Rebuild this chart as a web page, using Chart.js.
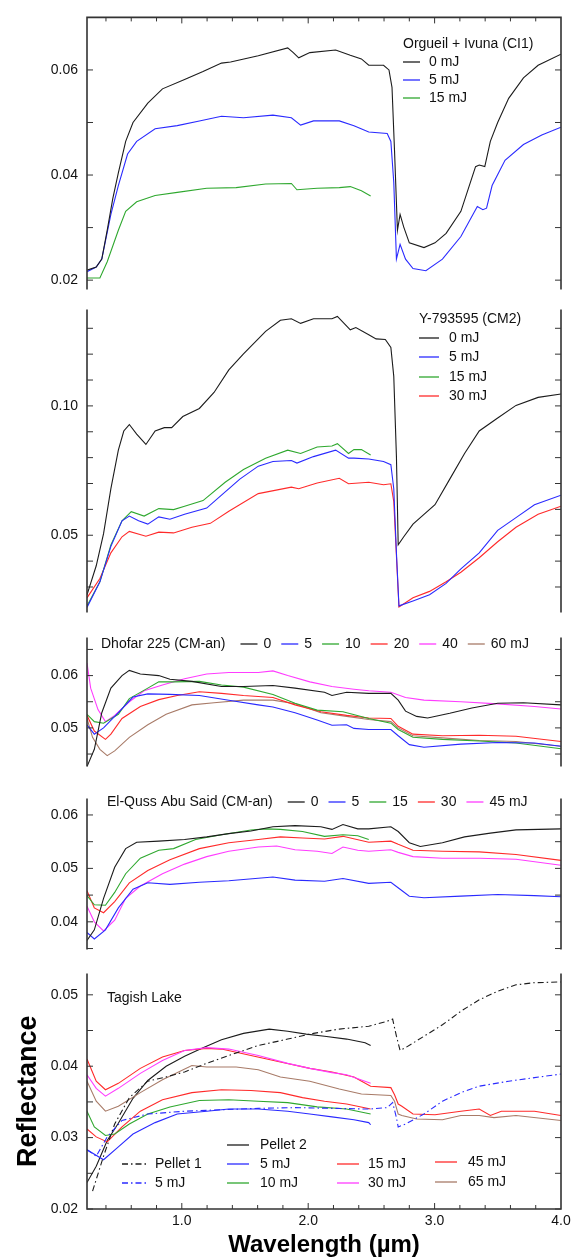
<!DOCTYPE html>
<html><head><meta charset="utf-8">
<script src="https://cdn.jsdelivr.net/npm/chart.js@4.4.1/dist/chart.umd.min.js"></script>
<style>
html,body{margin:0;padding:0;background:#fff;width:578px;height:1257px;overflow:hidden;}
canvas{position:absolute;left:0;}
</style></head><body>
<canvas id="p1"></canvas><canvas id="p2"></canvas><canvas id="p3"></canvas><canvas id="p4"></canvas><canvas id="p5"></canvas>
<script>
// ---------------- DATA ----------------
const X_TICKS = [1.0, 2.0, 3.0, 4.0];
const X_TICK_LABELS = ['1.0', '2.0', '3.0', '4.0'];
const X_MINOR = [0.4,0.6,0.8,1.2,1.4,1.6,1.8,2.2,2.4,2.6,2.8,3.2,3.4,3.6,3.8];

// Panel 1: Orgueil + Ivuna (CI1)
const P1_TICKS = [0.02, 0.04, 0.06];
const P1_TICK_LABELS = ['0.02', '0.04', '0.06'];
const P1_MINOR = [0.03, 0.05];
const P1_LABELS = ['0 mJ', '5 mJ', '15 mJ'];
const ORG_0_WL = [0.25,0.323,0.367,0.41,0.454,0.498,0.556,0.614,0.731,0.847,1.022,1.168,1.314,1.386,1.605,1.838,1.882,1.925,2.013,2.217,2.333,2.421,2.479,2.596,2.639,2.663,2.683,2.706,2.727,2.756,2.8,2.916,3.003,3.091,3.208,3.324,3.353,3.397,3.441,3.499,3.586,3.703,3.819,4.0];
const ORG_0_R = [0.0219,0.0225,0.024,0.0295,0.0355,0.0404,0.0464,0.050,0.0537,0.0564,0.0582,0.0597,0.0613,0.0615,0.0627,0.0642,0.0633,0.0623,0.0633,0.0638,0.0628,0.0621,0.0609,0.0609,0.060,0.0567,0.0446,0.0295,0.0325,0.0301,0.0271,0.0262,0.0271,0.0289,0.0331,0.0416,0.0419,0.0416,0.0464,0.050,0.0546,0.0585,0.0609,0.063];
const ORG_5_WL = [0.25,0.323,0.367,0.439,0.498,0.571,0.643,0.789,0.964,1.139,1.314,1.488,1.721,1.867,1.94,2.042,2.246,2.362,2.479,2.625,2.654,2.677,2.698,2.727,2.77,2.829,2.931,3.062,3.208,3.338,3.382,3.411,3.455,3.557,3.703,3.848,4.0];
const ORG_5_R = [0.0216,0.0225,0.024,0.0325,0.038,0.044,0.0464,0.0488,0.0494,0.0503,0.0512,0.0509,0.0514,0.0509,0.0495,0.0503,0.0503,0.0494,0.0482,0.0479,0.0464,0.0386,0.024,0.0268,0.024,0.0222,0.0218,0.024,0.0283,0.034,0.0334,0.0337,0.038,0.0428,0.0458,0.0476,0.0491];
const ORG_15_WL = [0.25,0.352,0.41,0.498,0.556,0.643,0.789,0.964,1.197,1.43,1.663,1.867,1.911,2.071,2.246,2.333,2.421,2.494];
const ORG_15_R = [0.0204,0.0204,0.0235,0.0295,0.0331,0.0349,0.0361,0.0367,0.0375,0.0376,0.0383,0.0384,0.0372,0.0375,0.0376,0.0378,0.037,0.036];

// Panel 2: Y-793595 (CM2)
const P2_TICKS = [0.05, 0.10];
const P2_TICK_LABELS = ['0.05', '0.10'];
const P2_MINOR = [0.03,0.04,0.06,0.07,0.08,0.09,0.11,0.12,0.13];
const P2_LABELS = ['0 mJ', '5 mJ', '15 mJ', '30 mJ'];
const Y_0_WL = [0.25,0.323,0.381,0.439,0.498,0.541,0.585,0.643,0.716,0.789,0.862,0.92,1.008,1.139,1.255,1.372,1.488,1.663,1.78,1.867,1.94,2.042,2.188,2.231,2.333,2.377,2.479,2.537,2.61,2.654,2.677,2.698,2.712,2.756,2.829,2.916,3.003,3.12,3.237,3.353,3.499,3.644,3.819,4.0];
const Y_0_R = [0.027,0.0382,0.0506,0.068,0.0829,0.0903,0.0928,0.0891,0.0851,0.0903,0.0916,0.0916,0.0959,0.099,0.1052,0.1139,0.1201,0.1288,0.1331,0.1337,0.1319,0.1337,0.1337,0.1346,0.1294,0.1303,0.1275,0.1259,0.1257,0.1226,0.1114,0.0804,0.0463,0.0494,0.0543,0.0581,0.0618,0.0717,0.0816,0.0903,0.0953,0.1002,0.1033,0.1046];
const Y_5_WL = [0.25,0.352,0.439,0.527,0.585,0.658,0.731,0.818,0.906,1.022,1.197,1.314,1.459,1.605,1.721,1.867,1.911,2.042,2.217,2.319,2.362,2.479,2.596,2.654,2.677,2.698,2.718,2.829,2.96,3.091,3.208,3.353,3.499,3.644,3.79,4.0];
const Y_5_R = [0.0221,0.032,0.0457,0.0556,0.0574,0.0556,0.0543,0.0571,0.0562,0.0581,0.0605,0.0655,0.0717,0.0767,0.0785,0.0789,0.0779,0.0804,0.0829,0.0798,0.0798,0.0795,0.0785,0.0773,0.068,0.0432,0.0227,0.0246,0.027,0.0314,0.037,0.0432,0.0519,0.0568,0.0618,0.0655];
const Y_15_WL = [0.25,0.352,0.439,0.527,0.60,0.702,0.818,0.935,1.022,1.168,1.343,1.488,1.663,1.838,1.94,2.071,2.188,2.231,2.319,2.362,2.421,2.494];
const Y_15_R = [0.0227,0.032,0.0463,0.0556,0.0591,0.0574,0.0603,0.0599,0.0612,0.0634,0.0705,0.0754,0.0798,0.0829,0.0816,0.0841,0.0845,0.0854,0.0816,0.0831,0.0831,0.081];
const Y_30_WL = [0.25,0.352,0.439,0.527,0.585,0.716,0.818,0.935,1.08,1.226,1.372,1.605,1.867,1.925,2.071,2.246,2.319,2.479,2.596,2.654,2.677,2.718,2.829,2.96,3.091,3.208,3.353,3.499,3.644,3.819,4.0];
const Y_30_R = [0.0258,0.0333,0.0432,0.0494,0.0515,0.0496,0.0512,0.0509,0.0531,0.0546,0.0593,0.0661,0.0686,0.068,0.0702,0.072,0.0699,0.0705,0.0695,0.0699,0.063,0.0223,0.0258,0.0283,0.032,0.0357,0.0413,0.0475,0.0531,0.0581,0.0612];

// Panel 3: Dhofar 225 (CM-an)
const P3_TICKS = [0.05, 0.06];
const P3_TICK_LABELS = ['0.05', '0.06'];
const P3_MINOR = [0.045, 0.055, 0.065];
const P3_LABELS = ['0', '5', '10', '20', '40', '60 mJ'];
const D_0_WL = [0.25,0.308,0.367,0.439,0.527,0.585,0.672,0.818,0.906,1.08,1.314,1.488,1.721,1.896,2.129,2.188,2.304,2.479,2.654,2.712,2.77,2.858,2.945,3.12,3.295,3.499,3.703,4.0];
const D_0_R = [0.0426,0.0459,0.0529,0.0576,0.06,0.061,0.0603,0.06,0.0593,0.0589,0.0579,0.0579,0.0581,0.0576,0.0568,0.0562,0.0568,0.0566,0.0566,0.0553,0.0532,0.0522,0.0519,0.0528,0.0538,0.0547,0.0548,0.0544];
const D_5_WL = [0.25,0.308,0.381,0.498,0.614,0.731,0.906,1.139,1.372,1.605,1.721,1.896,2.071,2.188,2.304,2.362,2.479,2.654,2.712,2.8,2.916,3.208,3.499,3.79,4.0];
const D_5_R = [0.0506,0.0488,0.05,0.0529,0.0559,0.0565,0.0564,0.0562,0.0553,0.0544,0.054,0.0529,0.0515,0.0505,0.0506,0.0499,0.0497,0.0497,0.0485,0.0468,0.0463,0.0469,0.0472,0.0471,0.0465];
const D_10_WL = [0.25,0.308,0.381,0.498,0.585,0.731,0.818,0.935,1.139,1.314,1.488,1.721,1.896,2.071,2.275,2.479,2.654,2.712,2.829,3.062,3.353,3.644,4.0];
const D_10_R = [0.0526,0.0512,0.0509,0.0526,0.0556,0.0576,0.0588,0.0588,0.0589,0.0582,0.0578,0.0564,0.0547,0.0534,0.0531,0.0518,0.0509,0.0497,0.0482,0.0478,0.0475,0.0471,0.046];
const D_20_WL = [0.25,0.308,0.396,0.439,0.527,0.672,0.818,0.964,1.139,1.314,1.488,1.721,1.896,2.1,2.304,2.479,2.654,2.712,2.829,3.062,3.353,3.644,4.0];
const D_20_R = [0.0524,0.0494,0.0478,0.0488,0.0518,0.0541,0.0554,0.0562,0.0569,0.0566,0.0562,0.0558,0.0544,0.0531,0.0524,0.0519,0.0518,0.0503,0.0488,0.0485,0.0486,0.0484,0.0474];
const D_40_WL = [0.25,0.279,0.337,0.396,0.469,0.585,0.702,0.847,1.022,1.197,1.372,1.605,1.721,1.838,2.013,2.188,2.362,2.479,2.654,2.77,2.916,3.208,3.499,3.79,4.0];
const D_40_R = [0.0624,0.0576,0.0535,0.0512,0.0524,0.055,0.0571,0.0582,0.0594,0.0603,0.0606,0.0606,0.0609,0.06,0.0588,0.0579,0.0574,0.0571,0.0568,0.0558,0.0553,0.055,0.0546,0.0541,0.0536];
const D_60_WL = [0.25,0.294,0.352,0.41,0.469,0.585,0.731,0.876,1.08,1.255,1.488,1.721,1.896,2.1,2.304,2.479,2.654,2.712,2.829,3.062,3.353,3.644,4.0];
const D_60_R = [0.0518,0.0482,0.0459,0.0447,0.0456,0.0482,0.0506,0.0526,0.0544,0.0548,0.0553,0.0553,0.0546,0.0529,0.0522,0.0516,0.0512,0.05,0.0485,0.0481,0.0476,0.0474,0.0465];

// Panel 4: El-Quss Abu Said (CM-an)
const P4_TICKS = [0.04, 0.05, 0.06];
const P4_TICK_LABELS = ['0.04', '0.05', '0.06'];
const P4_MINOR = [0.035, 0.045, 0.055];
const P4_LABELS = ['0', '5', '15', '30', '45 mJ'];
const E_0_WL = [0.25,0.308,0.381,0.469,0.556,0.643,0.818,1.022,1.197,1.372,1.547,1.721,1.896,2.1,2.188,2.275,2.392,2.479,2.654,2.712,2.8,2.887,3.062,3.237,3.441,3.644,4.0];
const E_0_R = [0.0365,0.0385,0.0444,0.0502,0.0537,0.0549,0.0551,0.0554,0.0559,0.0565,0.057,0.0578,0.058,0.0578,0.0573,0.0582,0.0574,0.0574,0.0578,0.0569,0.0548,0.0541,0.0548,0.0559,0.0566,0.0572,0.0574];
const E_5_WL = [0.25,0.308,0.396,0.498,0.614,0.731,0.906,1.139,1.372,1.721,1.896,2.129,2.275,2.479,2.654,2.727,2.8,2.916,3.208,3.499,3.79,4.0];
const E_5_R = [0.038,0.0368,0.0385,0.0426,0.0461,0.0473,0.047,0.0474,0.0477,0.0484,0.0478,0.0476,0.0481,0.0472,0.0474,0.0461,0.0448,0.0445,0.0448,0.0451,0.0449,0.0447];
const E_15_WL = [0.25,0.308,0.396,0.469,0.556,0.672,0.818,0.935,1.109,1.314,1.547,1.663,1.78,1.955,2.129,2.275,2.392,2.479];
const E_15_R = [0.0449,0.0432,0.0431,0.0455,0.049,0.0519,0.0534,0.0537,0.0554,0.0563,0.0572,0.0574,0.0573,0.0569,0.056,0.0563,0.0561,0.0554];
const E_30_WL = [0.25,0.308,0.381,0.469,0.585,0.731,0.906,1.139,1.372,1.605,1.78,1.955,2.129,2.275,2.479,2.654,2.712,2.829,3.062,3.353,3.644,4.0];
const E_30_R = [0.0458,0.0426,0.0417,0.0438,0.0473,0.0496,0.0516,0.0537,0.0548,0.0554,0.0559,0.0557,0.0555,0.056,0.0549,0.0551,0.0545,0.0534,0.0532,0.0531,0.0526,0.0515];
const E_45_WL = [0.25,0.308,0.381,0.469,0.556,0.672,0.847,1.022,1.197,1.372,1.605,1.751,1.896,2.071,2.188,2.275,2.392,2.479,2.654,2.712,2.829,3.062,3.353,3.644,4.0];
const E_45_R = [0.0429,0.04,0.0383,0.0403,0.0444,0.0467,0.049,0.0508,0.0522,0.0532,0.054,0.0542,0.0535,0.0532,0.0528,0.054,0.0534,0.0532,0.0535,0.053,0.0522,0.0519,0.0519,0.0517,0.0506];

// Panel 5: Tagish Lake
const P5_TICKS = [0.02, 0.03, 0.04, 0.05];
const P5_TICK_LABELS = ['0.02', '0.03', '0.04', '0.05'];
const P5_MINOR = [0.025, 0.035, 0.045];
const P5_LABELS = ['Pellet 1', '5 mJ', 'Pellet 2', '5 mJ', '10 mJ', '15 mJ', '30 mJ', '45 mJ', '65 mJ'];
const T_P1_WL = [0.294,0.381,0.469,0.585,0.731,0.876,1.022,1.197,1.372,1.605,1.838,2.042,2.246,2.479,2.625,2.668,2.698,2.727,2.77,2.916,3.062,3.208,3.353,3.499,3.644,3.79,4.0];
const T_P1_R = [0.0225,0.0274,0.0319,0.0356,0.0379,0.0385,0.0392,0.0404,0.0415,0.0429,0.0438,0.0446,0.0452,0.0456,0.0463,0.0466,0.0442,0.0422,0.0426,0.0442,0.0458,0.0477,0.0493,0.0505,0.0514,0.0517,0.0518];
const T_P1_5_WL = [0.25,0.323,0.41,0.527,0.731,1.022,1.314,1.605,1.896,2.188,2.479,2.625,2.668,2.698,2.712,2.77,2.916,3.062,3.208,3.353,3.586,3.79,4.0];
const T_P1_5_R = [0.0283,0.0274,0.0301,0.0324,0.0333,0.0337,0.0339,0.0341,0.0342,0.0341,0.034,0.0342,0.0349,0.0328,0.0315,0.0319,0.0333,0.0351,0.0363,0.0372,0.0379,0.0384,0.0389];
const T_P2_WL = [0.25,0.323,0.41,0.498,0.614,0.731,0.876,1.022,1.168,1.314,1.488,1.692,1.838,1.984,2.129,2.304,2.45,2.494];
const T_P2_R = [0.0237,0.026,0.0296,0.032,0.0355,0.038,0.040,0.0414,0.0426,0.0437,0.0446,0.0452,0.0449,0.0445,0.0442,0.0438,0.0433,0.0429];
const T_5_WL = [0.25,0.381,0.498,0.614,0.789,0.964,1.197,1.372,1.605,1.838,2.013,2.188,2.362,2.479,2.494];
const T_5_R = [0.0283,0.0269,0.0287,0.0305,0.0321,0.0333,0.0337,0.034,0.034,0.0337,0.0333,0.0329,0.0325,0.0321,0.0318];
const T_10_WL = [0.25,0.308,0.396,0.469,0.585,0.731,0.906,1.139,1.372,1.605,1.838,2.071,2.304,2.494];
const T_10_R = [0.0337,0.0315,0.0303,0.0305,0.0319,0.0333,0.0343,0.0352,0.0353,0.0351,0.0349,0.0343,0.034,0.0333];
const T_15_WL = [0.25,0.323,0.41,0.527,0.672,0.847,1.08,1.314,1.547,1.78,1.955,2.129,2.304,2.494];
const T_15_R = [0.0312,0.0301,0.0294,0.0315,0.0337,0.0353,0.0363,0.0367,0.0366,0.0363,0.0356,0.0351,0.0347,0.034];
const T_30_WL = [0.25,0.323,0.396,0.498,0.672,0.847,1.022,1.197,1.372,1.605,1.838,2.013,2.188,2.304,2.494];
const T_30_R = [0.0388,0.0369,0.0358,0.0369,0.039,0.0408,0.0422,0.0426,0.0424,0.0415,0.0404,0.0397,0.0391,0.0388,0.0376];
const T_45_WL = [0.25,0.323,0.396,0.498,0.672,0.847,1.022,1.197,1.314,1.547,1.78,2.013,2.188,2.362,2.494,2.654,2.683,2.712,2.741,2.829,3.003,3.208,3.353,3.441,3.528,3.79,4.0];
const T_45_R = [0.041,0.0379,0.0367,0.0376,0.0397,0.0413,0.0422,0.0425,0.0424,0.0415,0.0406,0.0397,0.0392,0.0385,0.0372,0.037,0.036,0.0347,0.0344,0.0333,0.0332,0.0337,0.034,0.0331,0.0337,0.0337,0.0331];
const T_65_WL = [0.25,0.323,0.396,0.498,0.672,0.847,1.08,1.197,1.43,1.605,1.78,2.013,2.246,2.421,2.654,2.683,2.712,2.741,2.858,3.062,3.208,3.353,3.47,3.644,4.0];
const T_65_R = [0.0379,0.0351,0.0337,0.0344,0.0363,0.0381,0.0401,0.0399,0.0399,0.0395,0.0385,0.0379,0.0368,0.0361,0.0359,0.0351,0.0333,0.0331,0.0326,0.0325,0.0331,0.0331,0.0328,0.0331,0.0324];

// ---------------- RENDER ----------------
const FONT = '"Liberation Sans", Arial, Helvetica, sans-serif';
Chart.defaults.font.family = FONT;
Chart.defaults.font.size = 14;
Chart.defaults.color = '#111';

const C = {k:'#1c1c1c', b:'#2a2aff', g:'#2fa82f', r:'#ff2a2a', m:'#ff3cff', n:'#a87b68'};
const DASHDOT = [6, 3, 1.5, 3];

function series(label, wl, r, color, dash) {
  return { label, data: wl.map((x, i) => ({x, y: r[i]})), borderColor: color, backgroundColor: color,
           borderWidth: 1.1, pointRadius: 0, borderDash: dash || [], tension: 0, fill: false };
}

const framePlugin = {
  id: 'frame',
  afterDatasetsDraw(chart, args, o) {
    const {ctx, chartArea: a, scales} = chart;
    const y = scales.y, x = scales.x;
    ctx.save();
    ctx.strokeStyle = '#333';
    ctx.lineWidth = 1.6;
    ctx.beginPath();
    ctx.moveTo(a.left, a.top); ctx.lineTo(a.left, a.bottom);
    ctx.moveTo(a.right, a.top); ctx.lineTo(a.right, a.bottom);
    if (o.top) { ctx.moveTo(a.left - 0.8, a.top); ctx.lineTo(a.right + 0.8, a.top); }
    if (o.bottom) { ctx.moveTo(a.left - 0.8, a.bottom); ctx.lineTo(a.right + 0.8, a.bottom); }
    ctx.stroke();
    ctx.lineWidth = 1;
    ctx.beginPath();
    o.yTicks.concat(o.yMinor).forEach(v => {
      const p = y.getPixelForValue(v);
      ctx.moveTo(a.left, p); ctx.lineTo(a.left + 6, p);
      ctx.moveTo(a.right, p); ctx.lineTo(a.right - 6, p);
    });
    const xt = X_TICKS.concat(X_MINOR).filter(v => v < 4.0);
    xt.forEach(v => {
      const p = x.getPixelForValue(v);
      const len = X_TICKS.includes(v) ? 6 : 4;
      if (o.top) { ctx.moveTo(p, a.top); ctx.lineTo(p, a.top + len); }
      if (o.bottom) { ctx.moveTo(p, a.bottom); ctx.lineTo(p, a.bottom - len); }
    });
    ctx.stroke();
    ctx.restore();
  }
};

const legendPlugin = {
  id: 'panelLegend',
  afterDatasetsDraw(chart, args, o) {
    if (!o || !o.title) return;
    const ctx = chart.ctx, off = o.offsetY;
    ctx.save();
    ctx.font = '14px ' + FONT;
    ctx.fillStyle = '#111';
    ctx.textBaseline = 'middle';
    ctx.textAlign = 'left';
    ctx.fillText(o.title.text, o.title.x, o.title.y - off);
    let cursor = o.title.x + ctx.measureText(o.title.text).width + 15;
    (o.entries || []).forEach(e => {
      const ds = chart.data.datasets[e.ds];
      let x1, x2, tx, y;
      if (o.flow) {
        x1 = cursor; x2 = x1 + 17; tx = x2 + 6; y = o.title.y;
        cursor = tx + ctx.measureText(ds.label).width + 10;
      } else { x1 = e.x1; x2 = e.x2; tx = e.tx; y = e.y; }
      ctx.strokeStyle = ds.borderColor;
      ctx.lineWidth = 1.3;
      ctx.setLineDash(ds.borderDash || []);
      ctx.beginPath(); ctx.moveTo(x1, y - off); ctx.lineTo(x2, y - off); ctx.stroke();
      ctx.setLineDash([]);
      ctx.fillText(ds.label, tx, y - off);
    });
    ctx.restore();
  }
};

function makePanel(id, p) {
  const cv = document.getElementById(id);
  cv.width = 578; cv.height = p.canvasHeight;
  cv.style.top = p.canvasTop + 'px';
  cv.style.width = '578px'; cv.style.height = p.canvasHeight + 'px';
  const xScale = { type: 'linear', min: 0.25, max: 4.0, display: !!p.showX };
  if (p.showX) {
    Object.assign(xScale, {
      grid: {display: false, drawTicks: false}, border: {display: false},
      afterBuildTicks: s => { s.ticks = X_TICKS.map(v => ({value: v})); },
      afterFit: s => { s.height = p.xHeight; },
      ticks: { autoSkip: false, maxRotation: 0, padding: 4, color: '#111', font: {size: 14},
               callback: (v, i) => X_TICK_LABELS[i] },
      title: { display: true, text: 'Wavelength (µm)', color: '#000',
               font: {size: 24, weight: 'bold', lineHeight: 1}, padding: {top: 0, bottom: 0} }
    });
  }
  const yScale = {
    type: 'linear', min: p.yMin, max: p.yMax,
    grid: {display: false, drawTicks: false}, border: {display: false},
    afterBuildTicks: s => { s.ticks = p.yTicks.map(v => ({value: v})); },
    afterFit: s => { s.width = 87; },
    ticks: { autoSkip: false, padding: 9, color: '#111', font: {size: 14},
             callback: (v, i) => p.yTickLabels[i] }
  };
  if (p.yTitle) {
    yScale.title = { display: true, text: p.yTitle, color: '#000',
                     font: {size: 27, weight: 'bold', lineHeight: 1}, padding: {top: 15, bottom: 0} };
  }
  new Chart(cv, {
    type: 'line',
    data: { datasets: p.datasets },
    options: {
      responsive: false, animation: false, devicePixelRatio: 1,
      layout: { padding: { left: 0, right: 17, top: p.padTop, bottom: p.padBottom } },
      plugins: {
        legend: {display: false}, tooltip: {enabled: false},
        frame: { top: !!p.frameTop, bottom: !!p.frameBottom, yTicks: p.yTicks, yMinor: p.yMinor },
        panelLegend: Object.assign({offsetY: p.canvasTop}, p.legend)
      },
      scales: { x: xScale, y: yScale }
    },
    plugins: [framePlugin, legendPlugin]
  });
}

// Panel 1
makePanel('p1', {
  canvasTop: 0, canvasHeight: 307, padTop: 11, padBottom: 12,
  yMin: 0.0182, yMax: 0.07, yTicks: P1_TICKS, yTickLabels: P1_TICK_LABELS, yMinor: P1_MINOR, frameTop: true,
  datasets: [
    series(P1_LABELS[0], ORG_0_WL, ORG_0_R, C.k),
    series(P1_LABELS[1], ORG_5_WL, ORG_5_R, C.b),
    series(P1_LABELS[2], ORG_15_WL, ORG_15_R, C.g)
  ],
  legend: { title: {text: 'Orgueil + Ivuna (CI1)', x: 403, y: 44},
            entries: [ {ds: 0, x1: 403, x2: 420, tx: 429, y: 62},
                       {ds: 1, x1: 403, x2: 420, tx: 429, y: 80},
                       {ds: 2, x1: 403, x2: 420, tx: 429, y: 98} ] }
});

// Panel 2
makePanel('p2', {
  canvasTop: 292, canvasHeight: 338, padTop: 12, padBottom: 12,
  yMin: 0.0201, yMax: 0.1373, yTicks: P2_TICKS, yTickLabels: P2_TICK_LABELS, yMinor: P2_MINOR,
  datasets: [
    series(P2_LABELS[0], Y_0_WL, Y_0_R, C.k),
    series(P2_LABELS[1], Y_5_WL, Y_5_R, C.b),
    series(P2_LABELS[2], Y_15_WL, Y_15_R, C.g),
    series(P2_LABELS[3], Y_30_WL, Y_30_R, C.r)
  ],
  legend: { title: {text: 'Y-793595 (CM2)', x: 419, y: 319},
            entries: [ {ds: 0, x1: 419, x2: 439, tx: 449, y: 338},
                       {ds: 1, x1: 419, x2: 439, tx: 449, y: 357},
                       {ds: 2, x1: 419, x2: 439, tx: 449, y: 377},
                       {ds: 3, x1: 419, x2: 439, tx: 449, y: 396} ] }
});

// Panel 3
makePanel('p3', {
  canvasTop: 620, canvasHeight: 164, padTop: 12, padBottom: 12,
  yMin: 0.0426, yMax: 0.0673, yTicks: P3_TICKS, yTickLabels: P3_TICK_LABELS, yMinor: P3_MINOR,
  datasets: [
    series(P3_LABELS[0], D_0_WL, D_0_R, C.k),
    series(P3_LABELS[1], D_5_WL, D_5_R, C.b),
    series(P3_LABELS[2], D_10_WL, D_10_R, C.g),
    series(P3_LABELS[3], D_20_WL, D_20_R, C.r),
    series(P3_LABELS[4], D_40_WL, D_40_R, C.m),
    series(P3_LABELS[5], D_60_WL, D_60_R, C.n)
  ],
  legend: { flow: true, title: {text: 'Dhofar 225 (CM-an)', x: 101, y: 644},
            entries: [0,1,2,3,4,5].map(i => ({ds: i})) }
});

// Panel 4
makePanel('p4', {
  canvasTop: 781, canvasHeight: 186, padTop: 12, padBottom: 12,
  yMin: 0.0348, yMax: 0.0631, yTicks: P4_TICKS, yTickLabels: P4_TICK_LABELS, yMinor: P4_MINOR,
  datasets: [
    series(P4_LABELS[0], E_0_WL, E_0_R, C.k),
    series(P4_LABELS[1], E_5_WL, E_5_R, C.b),
    series(P4_LABELS[2], E_15_WL, E_15_R, C.g),
    series(P4_LABELS[3], E_30_WL, E_30_R, C.r),
    series(P4_LABELS[4], E_45_WL, E_45_R, C.m)
  ],
  legend: { flow: true, title: {text: 'El-Quss Abu Said (CM-an)', x: 107, y: 802},
            entries: [0,1,2,3,4].map(i => ({ds: i})) }
});

// Panel 5
makePanel('p5', {
  canvasTop: 956, canvasHeight: 301, padTop: 12, padBottom: 0, showX: true, xHeight: 48,
  yMin: 0.02, yMax: 0.053, yTicks: P5_TICKS, yTickLabels: P5_TICK_LABELS, yMinor: P5_MINOR,
  frameBottom: true, yTitle: 'Reflectance',
  datasets: [
    series(P5_LABELS[0], T_P1_WL, T_P1_R, C.k, DASHDOT),
    series(P5_LABELS[1], T_P1_5_WL, T_P1_5_R, C.b, DASHDOT),
    series(P5_LABELS[3], T_5_WL, T_5_R, C.b),
    series(P5_LABELS[4], T_10_WL, T_10_R, C.g),
    series(P5_LABELS[5], T_15_WL, T_15_R, C.r),
    series(P5_LABELS[6], T_30_WL, T_30_R, C.m),
    series(P5_LABELS[7], T_45_WL, T_45_R, C.r),
    series(P5_LABELS[8], T_65_WL, T_65_R, C.n),
    series(P5_LABELS[2], T_P2_WL, T_P2_R, C.k)
  ],
  legend: { title: {text: 'Tagish Lake', x: 107, y: 998},
            entries: [ {ds: 8, x1: 227, x2: 249, tx: 260, y: 1145},
                       {ds: 0, x1: 122, x2: 148, tx: 155, y: 1164},
                       {ds: 1, x1: 122, x2: 148, tx: 155, y: 1183},
                       {ds: 2, x1: 227, x2: 249, tx: 260, y: 1164},
                       {ds: 3, x1: 227, x2: 249, tx: 260, y: 1183},
                       {ds: 4, x1: 337, x2: 359, tx: 368, y: 1164},
                       {ds: 5, x1: 337, x2: 359, tx: 368, y: 1183},
                       {ds: 6, x1: 435, x2: 457, tx: 468, y: 1162},
                       {ds: 7, x1: 435, x2: 457, tx: 468, y: 1182} ] }
});
</script>
</body></html>
